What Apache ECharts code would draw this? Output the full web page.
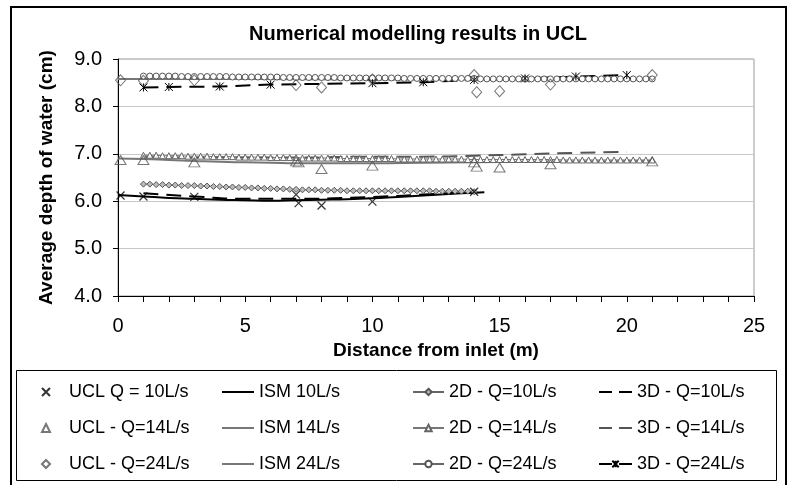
<!DOCTYPE html>
<html><head><meta charset="utf-8">
<script src="https://cdn.jsdelivr.net/npm/echarts@6/dist/echarts.min.js"></script>
<style>html,body{margin:0;padding:0;background:#fff}#c{width:789px;height:485px}</style>
</head><body><div id="c"></div>
<script>
// ---- data ----
const xTickLabels = [0, 5, 10, 15, 20, 25];
const yTickLabels = [4.0, 5.0, 6.0, 7.0, 8.0, 9.0];

const uclX10 = [0.1, 1, 3, 7, 7.1, 8, 10, 14];
const uclY10 = [6.12, 6.10, 6.09, 6.14, 5.96, 5.91, 5.99, 6.20];
const uclX14 = [0.1, 1, 3, 7, 7.1, 8, 10, 14, 14.1, 15, 17, 21];
const uclY14 = [6.87, 6.87, 6.82, 6.84, 6.82, 6.68, 6.75, 6.82, 6.73, 6.71, 6.78, 6.84];
const uclX24 = [0.1, 1, 3, 7, 8, 10, 14, 14.1, 15, 17, 21];
const uclY24 = [8.55, 8.54, 8.55, 8.45, 8.40, 8.57, 8.66, 8.30, 8.32, 8.46, 8.66];

const ismX10 = [0, 1, 2, 3, 4, 5, 6, 7, 8, 9, 10, 11, 12, 13, 14, 14.4];
const ismY10 = [6.13, 6.10, 6.07, 6.05, 6.03, 6.02, 6.01, 6.02, 6.03, 6.04, 6.06, 6.09, 6.12, 6.15, 6.18, 6.19];
const ismX14 = [0, 1, 2, 3, 4, 5, 6, 7, 8, 10, 12, 14, 16, 18, 21];
const ismY14 = [6.90, 6.89, 6.87, 6.85, 6.83, 6.82, 6.81, 6.80, 6.80, 6.80, 6.81, 6.82, 6.83, 6.84, 6.85];
const ismX24 = [0, 5, 10, 15, 21];
const ismY24 = [8.58, 8.58, 8.57, 8.57, 8.57];

const x2D = [1,1.25,1.5,1.75,2,2.25,2.5,2.75,3,3.25,
  3.5,3.75,4,4.25,4.5,4.75,5,5.25,5.5,5.75,
  6,6.25,6.5,6.75,7,7.25,7.5,7.75,8,8.25,
  8.5,8.75,9,9.25,9.5,9.75,10,10.25,10.5,10.75,
  11,11.25,11.5,11.75,12,12.25,12.5,12.75,13,13.25,
  13.5,13.75,14,14.25,14.5,14.75,15,15.25,15.5,15.75,
  16,16.25,16.5,16.75,17,17.25,17.5,17.75,18,18.25,
  18.5,18.75,19,19.25,19.5,19.75,20,20.25,20.5,20.75,
  21];
const y2D10 = [6.36,6.36,6.35,6.35,6.34,6.34,6.33,6.33,6.33,6.32,
  6.32,6.31,6.31,6.30,6.30,6.29,6.29,6.28,6.28,6.27,
  6.27,6.26,6.26,6.25,6.25,6.24,6.24,6.24,6.23,6.23,
  6.23,6.23,6.22,6.22,6.22,6.22,6.22,6.22,6.22,6.22,
  6.22,6.22,6.22,6.22,6.22,6.22,6.21,6.21,6.21,6.21,
  6.21,6.21,6.20];
const y2D14 = [6.97,6.97,6.97,6.96,6.96,6.96,6.96,6.95,6.95,6.95,
  6.95,6.94,6.94,6.94,6.94,6.93,6.93,6.93,6.93,6.93,
  6.92,6.92,6.92,6.92,6.92,6.91,6.91,6.91,6.91,6.91,
  6.91,6.90,6.90,6.90,6.90,6.90,6.90,6.90,6.90,6.90,
  6.89,6.89,6.89,6.89,6.89,6.89,6.89,6.89,6.89,6.89,
  6.89,6.88,6.88,6.88,6.88,6.88,6.88,6.88,6.88,6.88,
  6.88,6.88,6.88,6.88,6.88,6.88,6.87,6.87,6.87,6.87,
  6.87,6.87,6.87,6.87,6.87,6.87,6.87,6.87,6.87,6.87,
  6.87];
const y2D24 = [8.64,8.64,8.64,8.64,8.64,8.64,8.63,8.63,8.63,8.63,
  8.63,8.63,8.63,8.63,8.62,8.62,8.62,8.62,8.62,8.62,
  8.62,8.62,8.61,8.61,8.61,8.61,8.61,8.61,8.61,8.61,
  8.61,8.60,8.60,8.60,8.60,8.60,8.60,8.60,8.60,8.60,
  8.60,8.59,8.59,8.59,8.59,8.59,8.59,8.59,8.59,8.59,
  8.59,8.59,8.59,8.58,8.58,8.58,8.58,8.58,8.58,8.58,
  8.58,8.58,8.58,8.58,8.58,8.58,8.58,8.58,8.58,8.58,
  8.58,8.58,8.58,8.58,8.58,8.58,8.58,8.58,8.58,8.58,
  8.58];

const x3D10 = [1, 3, 5, 7, 10, 12, 14];
const y3D10 = [6.17, 6.10, 6.05, 6.05, 6.09, 6.14, 6.20];
const x3D14 = [1, 3, 5, 7, 10, 12, 14, 16, 18, 20];
const y3D14 = [6.93, 6.92, 6.92, 6.92, 6.94, 6.94, 6.96, 6.99, 7.02, 7.04];
const x3D24 = [1, 2, 4, 6, 10, 12, 14, 16, 18, 20];
const y3D24 = [8.40, 8.41, 8.42, 8.46, 8.49, 8.51, 8.56, 8.59, 8.63, 8.66];

const names = ['UCL Q = 10L/s','UCL - Q=14L/s','UCL - Q=24L/s',
  'ISM 10L/s','ISM 14L/s','ISM 24L/s',
  '2D - Q=10L/s','2D - Q=14L/s','2D - Q=24L/s',
  '3D - Q=10L/s','3D - Q=14L/s','3D - Q=24L/s'];

const pair = (xs, ys) => xs.map((x, i) => [x, ys[i]]);
const FONT = 'Liberation Sans, Arial, sans-serif';
const X_PATH = 'path://M0,0L10,10M0,10L10,0';
const STAR_PATH = 'path://M0,0L10,10M0,10L10,0M5,0L5,10';
const DASH = [15, 8];
const LEG_DASH = [13, 7];

const chart = echarts.init(document.getElementById('c'), null, {renderer: 'canvas'});

function legendCol(left, items, itemWidth, pad) {
  return {
    orient: 'vertical', left: left, top: 383, itemGap: 18, padding: 0,
    itemWidth: itemWidth, itemHeight: 8, selectedMode: false,
    textStyle: {fontFamily: FONT, fontSize: 18, color: '#000', lineHeight: 18, padding: [0, 0, 0, pad]},
    data: items
  };
}
const noSym = n => ({name: n, itemStyle: {opacity: 0}});
const dashNoSym = n => ({name: n, itemStyle: {opacity: 0}, lineStyle: {type: LEG_DASH}});

const option = {
  animation: false,
  backgroundColor: '#fff',
  title: {
    text: 'Numerical modelling results in UCL', left: 413, top: 19, textAlign: 'center',
    textStyle: {fontFamily: FONT, fontSize: 20, fontWeight: 'bold', color: '#000'}
  },
  graphic: [
    {type: 'rect', shape: {x: 11, y: 7, width: 775, height: 500}, style: {fill: 'none', stroke: '#000', lineWidth: 2}, silent: true, z: -1},
    {type: 'rect', shape: {x: 16.5, y: 370.5, width: 760, height: 110}, style: {fill: 'none', stroke: '#000', lineWidth: 1}, silent: true, z: -1}
  ],
  legend: [
    legendCol(41, names.slice(0, 3), 8, 14),
    legendCol(221, [noSym(names[3]), noSym(names[4]), noSym(names[5])], 32, 0),
    legendCol(412, names.slice(6, 9), 31, 0),
    legendCol(598, [dashNoSym(names[9]), dashNoSym(names[10]), {name: names[11], lineStyle: {type: LEG_DASH}}], 33, 0)
  ],
  grid: {left: 118, right: 35, top: 59, bottom: 189, show: true, borderColor: '#999', borderWidth: 1},
  xAxis: {
    type: 'value', min: xTickLabels[0], max: xTickLabels[xTickLabels.length - 1], interval: 1,
    name: 'Distance from inlet (m)', nameLocation: 'middle', nameGap: 45,
    nameTextStyle: {fontFamily: FONT, fontSize: 19, fontWeight: 'bold', color: '#000'},
    axisLine: {lineStyle: {color: '#000', width: 1}},
    axisTick: {length: 6, lineStyle: {color: '#000'}},
    axisLabel: {fontFamily: FONT, fontSize: 20, color: '#000', margin: 20,
      formatter: v => xTickLabels.indexOf(v) >= 0 ? String(v) : ''},
    splitLine: {show: false}
  },
  yAxis: {
    type: 'value', min: yTickLabels[0], max: yTickLabels[yTickLabels.length - 1], interval: 1,
    name: 'Average depth of water (cm)', nameLocation: 'middle', nameGap: 62, nameRotate: 90,
    nameTextStyle: {fontFamily: FONT, fontSize: 19, fontWeight: 'bold', color: '#000'},
    axisLine: {show: true, lineStyle: {color: '#000', width: 1}},
    axisTick: {show: true, length: 5, lineStyle: {color: '#000'}},
    axisLabel: {fontFamily: FONT, fontSize: 20, color: '#000', margin: 16,
      formatter: v => v.toFixed(1)},
    splitLine: {lineStyle: {color: '#c8c8c8', width: 1}}
  },
  series: [
    {name: names[0], type: 'scatter', data: pair(uclX10, uclY10), symbol: X_PATH, symbolSize: 8, z: 10,
      itemStyle: {color: 'rgba(0,0,0,0)', borderColor: '#000', borderWidth: 1.2}},
    {name: names[1], type: 'scatter', data: pair(uclX14, uclY14), symbol: 'triangle', symbolSize: [11, 9], z: 10,
      itemStyle: {color: 'rgba(255,255,255,0)', borderColor: '#555', borderWidth: 1}},
    {name: names[2], type: 'scatter', data: pair(uclX24, uclY24), symbol: 'diamond', symbolSize: [10, 11], z: 10,
      itemStyle: {color: 'rgba(255,255,255,0)', borderColor: '#555', borderWidth: 1}},

    {name: names[3], type: 'line', data: pair(ismX10, ismY10), smooth: true, showSymbol: false, symbol: 'none',
      lineStyle: {color: '#000', width: 2}, itemStyle: {color: '#000'}},
    {name: names[4], type: 'line', data: pair(ismX14, ismY14), smooth: true, showSymbol: false, symbol: 'none',
      lineStyle: {color: '#777', width: 2}, itemStyle: {color: '#777'}},
    {name: names[5], type: 'line', data: pair(ismX24, ismY24), smooth: true, showSymbol: false, symbol: 'none',
      lineStyle: {color: '#777', width: 2}, itemStyle: {color: '#777'}},

    {name: names[6], type: 'line', data: pair(x2D.slice(0, y2D10.length), y2D10), symbol: 'diamond', symbolSize: 6, showAllSymbol: true,
      lineStyle: {color: '#666', width: 1}, itemStyle: {color: '#bbb', borderColor: '#555', borderWidth: 1}},
    {name: names[7], type: 'line', data: pair(x2D, y2D14), symbol: 'triangle', symbolSize: 6, showAllSymbol: true,
      lineStyle: {color: '#777', width: 1}, itemStyle: {color: '#fff', borderColor: '#666', borderWidth: 1}},
    {name: names[8], type: 'line', data: pair(x2D, y2D24), symbol: 'circle', symbolSize: 6, showAllSymbol: true,
      lineStyle: {color: '#666', width: 1}, itemStyle: {color: '#fff', borderColor: '#555', borderWidth: 1}},

    {name: names[9], type: 'line', data: pair(x3D10, y3D10), smooth: true, showSymbol: false, symbol: 'none',
      lineStyle: {color: '#000', width: 2, type: DASH}, itemStyle: {color: '#000'}},
    {name: names[10], type: 'line', data: pair(x3D14, y3D14), smooth: true, showSymbol: false, symbol: 'none',
      lineStyle: {color: '#555', width: 2, type: DASH}, itemStyle: {color: '#555'}},
    {name: names[11], type: 'line', data: pair(x3D24, y3D24), symbol: STAR_PATH, symbolSize: 8, showAllSymbol: true,
      lineStyle: {color: '#000', width: 2, type: DASH}, itemStyle: {color: 'rgba(0,0,0,0)', borderColor: '#000', borderWidth: 1}}
  ]
};
chart.setOption(option);
</script></body></html>
